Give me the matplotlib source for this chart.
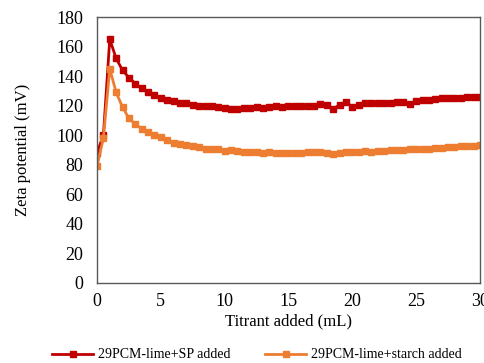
import numpy as np
import matplotlib
matplotlib.use('Agg')
import matplotlib.pyplot as plt

titrant = np.arange(0, 30.5, 0.5)

sp_added = [88, 100, 165, 152, 144, 139, 135, 132, 129, 127,
            125.5, 124, 123, 122, 121.5, 120.5, 120, 119.5, 120, 119,
            118.5, 118, 118, 118.5, 118.5, 119, 118.5, 119, 119.5, 119,
            119.5, 120, 119.5, 119.5, 120, 121, 120.5, 118, 120.5, 122.5,
            119, 120.5, 121.5, 122, 122, 121.5, 122, 122.5, 122.5, 121,
            123.5, 124, 124, 124.5, 125, 125.5, 125.5, 125.5, 126, 126, 126]

starch_added = [79, 98, 145, 129, 119, 111.5, 107.5, 104.5, 102.5, 100,
                98.5, 97, 95, 94, 93.5, 93, 92, 91, 91, 90.5,
                89.5, 90, 89.5, 89, 88.5, 88.5, 88, 88.5, 88, 88,
                88, 88, 88, 88.5, 88.5, 88.5, 88, 87.5, 88, 89,
                88.5, 89, 89.5, 89, 89.5, 89.5, 90, 90, 90, 90.5,
                90.5, 91, 91, 91.5, 91.5, 92, 92, 92.5, 92.5, 93, 93.5]

plt.rcParams['font.family'] = ['Liberation Serif', 'DejaVu Serif']

fig = plt.figure(figsize=(4.84, 3.63), dpi=100)
ax = fig.add_axes([0.2004, 0.2204, 0.7913, 0.7326])

ax.plot(titrant, sp_added, color='#C00000', marker='s', markersize=4,
        linewidth=2, label='29PCM-lime+SP added')
ax.plot(titrant, starch_added, color='#ED7D31', marker='s', markersize=4,
        linewidth=2, label='29PCM-lime+starch added')

ax.set_xlim(0, 30)
ax.set_ylim(0, 180)
ax.set_xticks(range(0, 31, 5))
ax.set_yticks(range(0, 181, 20))
ax.tick_params(length=0, labelsize=13)
ax.tick_params(axis='y', pad=10)
ax.tick_params(axis='x', pad=7)
for s in ax.spines.values():
    s.set_color('#595959')
    s.set_linewidth(1)

ax.set_xlabel('Titrant added (mL)', fontsize=12, labelpad=3)
ax.set_ylabel('Zeta potential (mV)', fontsize=12, labelpad=18)

fig.legend(loc='lower center', bbox_to_anchor=(0.53, -0.03), ncol=2,
           frameon=False, fontsize=10, columnspacing=2.5, handlelength=3,
           handletextpad=0.3)

fig.savefig('out.png', dpi=100)
